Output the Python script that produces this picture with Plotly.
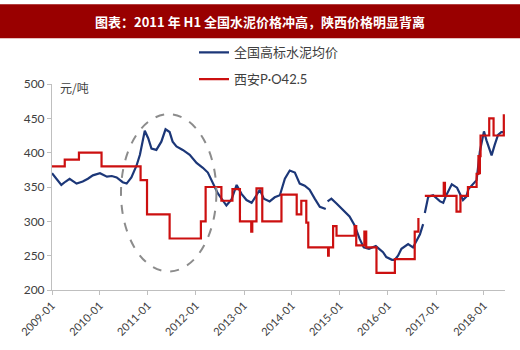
import plotly.graph_objects as go

# National high-grade cement average price (yuan/ton); None marks a data break
nat_dates = [
    "2009-01-01", "2009-02-10", "2009-03-13", "2009-04-15", "2009-05-15", "2009-07-07",
    "2009-08-23", "2009-10-01", "2009-11-08", "2010-01-01", "2010-02-23", "2010-04-01",
    "2010-05-08", "2010-06-23", "2010-07-23", "2010-08-28", "2010-10-06", "2010-11-01",
    "2010-12-08", "2011-01-03", "2011-01-28", "2011-03-06", "2011-04-13", "2011-05-15",
    "2011-06-15", "2011-07-08", "2011-08-06", "2011-09-23", "2011-11-15", "2012-01-06",
    "2012-02-23", "2012-04-01", "2012-05-08", "2012-06-15", "2012-08-20", "2012-09-28",
    "2012-11-06", "2012-12-13", "2013-01-20", "2013-02-28", "2013-04-06", "2013-05-01",
    "2013-06-01", "2013-07-15", "2013-08-23", "2013-10-01", "2013-11-08", "2013-12-15",
    "2014-01-23", "2014-03-01", "2014-04-08", "2014-05-15", "2014-06-23", "2014-08-01",
    "2014-09-15", "2014-09-22", "2014-09-29", "2014-10-28", "2014-12-06", "2015-01-25",
    "2015-03-15", "2015-04-23", "2015-06-01", "2015-07-01", "2015-08-10", "2015-10-01",
    "2015-11-25", "2015-12-20", "2016-02-01", "2016-02-23", "2016-03-18", "2016-04-13",
    "2016-06-03", "2016-07-10", "2016-08-06", "2016-09-01", "2016-09-25", "2016-10-01",
    "2016-10-08", "2016-11-03", "2016-12-10", "2017-02-01", "2017-02-25", "2017-03-15",
    "2017-05-01", "2017-06-10", "2017-07-25", "2017-08-20", "2017-09-05", "2017-10-10",
    "2017-11-06", "2017-12-01", "2018-01-01", "2018-01-20", "2018-02-10", "2018-02-28",
    "2018-03-23", "2018-04-18", "2018-05-13", "2018-06-08",
]
nat_price = [
    370, 360, 353, 358, 362, 355,
    358, 362, 367, 370, 365, 366,
    364, 357, 355, 364, 381, 397,
    432, 421, 406, 404, 416, 434,
    430, 416, 409, 404, 397, 385,
    378, 371, 357, 341, 323, 332,
    353, 340, 331, 327, 338, 346,
    333, 329, 335, 338, 362, 374,
    371, 355, 352, 346, 333, 321,
    318, None, 329, 333, 326, 316,
    307, 294, 274, 262, 260, 264,
    255, 248, 244, 244, 250, 260,
    267, 262, 272, 281, 296, None,
    312, 336, 338, 329, 327, 336,
    354, 349, 331, 336, 347, 354,
    360, 402, 431, 418, 406, 396,
    411, 426, 430, 430,
]

# Xi'an P.O42.5 price (yuan/ton), step changes
xa_dates = [
    "2009-01-01", "2009-04-08", "2009-07-25", "2010-01-13", "2010-11-06", "2010-12-25",
    "2011-06-15", "2012-02-08", "2012-03-15", "2012-07-13", "2012-10-05", "2012-12-01",
    "2013-02-25", "2013-03-05", "2013-04-06", "2013-05-20", "2013-10-13", "2014-02-06",
    "2014-03-13", "2014-04-20", "2014-05-05", "2014-10-03", "2014-10-08", "2014-11-10",
    "2014-12-06", "2015-04-23", "2015-05-05", "2015-07-06", "2015-07-20", "2015-10-06",
    "2016-02-23", "2016-07-23", "2016-08-20", "2016-09-15", "2016-10-08", "2017-03-01",
    "2017-03-10", "2017-06-06", "2017-07-06", "2017-09-01", "2017-11-06", "2017-11-20",
    "2017-11-25", "2017-12-01", "2017-12-06", "2018-02-10", "2018-03-15", "2018-06-01",
]
xa_price = [
    380, 390, 400, 380, 360, 310,
    275, 300, 350, 330, 347, 300,
    285, 300, 348, 300, 339, 310,
    330, 298, 262, 250, 262, 293,
    279, 293, 265, 285, 262, 225,
    245, 285, 305, None, 337, 356,
    337, 314, 337, 350, 369, 395,
    370, 395, 425, 450, 425, 456,
]

title_text = "图表：2011 年 H1 全国水泥价格冲高，陕西价格明显背离"
unit_text = "元/吨"

W, H = 520, 350
ML, MR, MT, MB = 52, 15, 84, 54
PW, PH = W - ML - MR, H - MT - MB


def px_x(px):
    return (px - ML) / PW


def px_y(py):
    return (H - MB - py) / PH


fig = go.Figure()
fig.add_trace(go.Scatter(
    x=nat_dates, y=nat_price, mode="lines", name="全国高标水泥均价",
    line=dict(color="#1c3778", width=2.2), connectgaps=False, legendgroup="a",
))
fig.add_trace(go.Scatter(
    x=xa_dates, y=xa_price, mode="lines", name="西安P·O42.5",
    line=dict(color="#cc1010", width=2.2, shape="hv"), connectgaps=False, legendgroup="b",
))

# dashed ellipse highlighting the 2011 divergence
fig.add_shape(type="circle", xref="x", yref="y",
              x0="2010-06-10", x1="2012-06-05", y0=227, y1=456,
              line=dict(color="#8c8c8c", width=2, dash="dash"), layer="above")

# title banner
fig.add_shape(type="rect", xref="paper", yref="paper",
              x0=px_x(0), x1=px_x(W), y0=px_y(37), y1=px_y(2),
              fillcolor="#990000", line=dict(width=0), layer="below")
fig.add_annotation(xref="paper", yref="paper", x=px_x(260), y=px_y(20),
                   text="<b>" + title_text + "</b>", showarrow=False,
                   font=dict(family="Noto Sans CJK SC", size=13, color="white"),
                   xanchor="center", yanchor="middle")
fig.add_annotation(xref="paper", yref="paper", x=px_x(58), y=px_y(88),
                   text=unit_text, showarrow=False,
                   font=dict(family="Noto Sans CJK SC", size=12, color="#404040"),
                   xanchor="left", yanchor="middle")

fig.update_layout(
    width=W, height=H,
    margin=dict(l=ML, r=MR, t=MT, b=MB),
    paper_bgcolor="white", plot_bgcolor="white",
    font=dict(family="Lato, Noto Sans CJK SC", color="#404040", size=12),
    showlegend=True,
    legend=dict(x=px_x(194), y=px_y(36), xanchor="left", yanchor="top",
                bgcolor="rgba(0,0,0,0)", traceorder="grouped", tracegroupgap=7,
                font=dict(family="Lato, Noto Sans CJK SC", size=13, color="#404040")),
    xaxis=dict(
        type="date", range=["2009-01-01", "2018-06-10"],
        tickvals=[f"{y}-01-01" for y in range(2009, 2019)],
        ticktext=[f"{y}-01" for y in range(2009, 2019)],
        tickangle=-45, showgrid=False, zeroline=False,
        showline=True, linecolor="#bfbfbf", linewidth=1,
        ticks="outside", tickcolor="#bfbfbf", ticklen=4,
        tickfont=dict(size=11, color="#404040"),
    ),
    yaxis=dict(
        range=[200, 500], dtick=50, showgrid=False, zeroline=False,
        showline=True, linecolor="#bfbfbf", linewidth=1,
        ticks="outside", tickcolor="#bfbfbf", ticklen=4,
        tickfont=dict(size=12, color="#404040"),
    ),
)

fig.write_html("out.html")
